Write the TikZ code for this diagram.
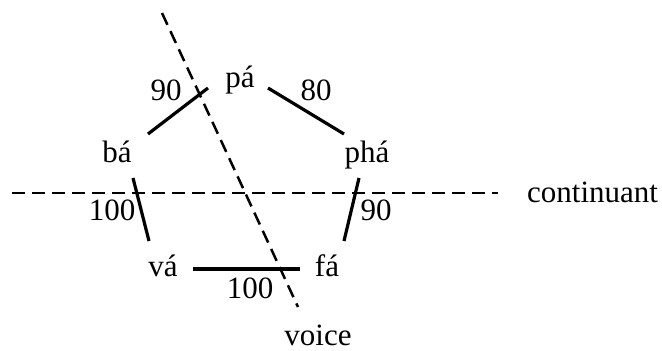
\documentclass[tikz,border=0pt]{standalone}
\usepackage{fontspec}
\setmainfont{Liberation Serif}
\usetikzlibrary{calc}
\tikzset{
  lbl/.style={inner sep=0pt, anchor=base, font=\fontsize{31}{36}\selectfont},
  edge/.style={line width=3.2pt},
  dashline/.style={line width=2.5pt, dash pattern=on 13pt off 7pt},
}
\begin{document}
\begin{tikzpicture}[x=1pt,y=-1pt]
\useasboundingbox (0,0) rectangle (662,351);
% syllables
\node[lbl] (pa)  at (240,87)  {pá};
\node[lbl] (ba)  at (117,162) {bá};
\node[lbl] (pha) at (367,162) {phá};
\node[lbl] (va)  at (163,276) {vá};
\node[lbl] (fa)  at (327,276) {fá};
% feature labels
\node[lbl] (voice) at (318,345) {voice};
\node[lbl, anchor=base west] (cont) at (527,202) {continuant};
% weights
\node[lbl] (w1) at (166,100) {90};
\node[lbl] (w2) at (316,100) {80};
\node[lbl] (w3) at (112,220) {100};
\node[lbl] (w4) at (376,220) {90};
\node[lbl] (w5) at (250,298) {100};
% edges
\draw[edge] ($(ba.base)+(31,-28)$) -- ($(pa.base)+(-32,1)$);
\draw[edge] ($(pa.base)+(28,1)$) -- ($(pha.base)+(-23,-28)$);
\draw[edge] ($(ba.base)+(16,16)$) -- ($(va.base)+(-14,-35)$);
\draw[edge] ($(pha.base)+(-8,16)$) -- ($(fa.base)+(17,-35)$);
\draw[edge] ($(va.base)+(30,-7)$) -- ($(fa.base)+(-27,-7)$);
% dashed feature boundaries
\coordinate (hs) at (12,193);
\coordinate (he) at (498,193);
\coordinate (ds) at (162,13);
\coordinate (de) at (298,307);
\draw[dashline] (hs) -- (he);
\draw[dashline] (ds) -- (de);
\end{tikzpicture}
\end{document}
